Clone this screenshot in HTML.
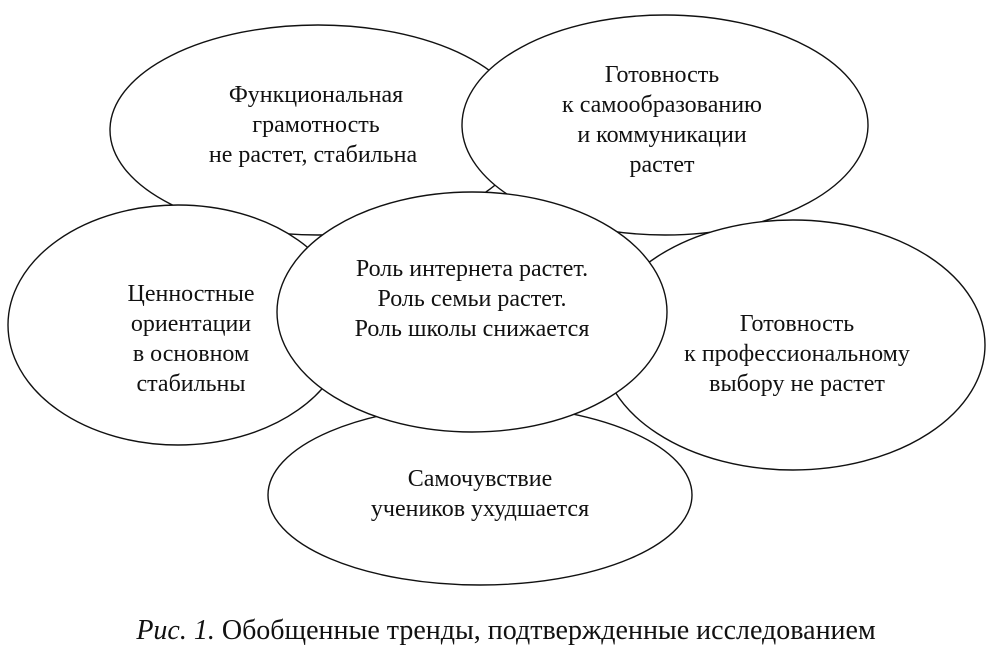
<!DOCTYPE html>
<html><head><meta charset="utf-8"><style>
body{margin:0;background:#fff;width:993px;height:653px;overflow:hidden}
svg text{font-family:"Liberation Serif",serif;font-size:24px;fill:#111;text-anchor:middle}
</style></head><body>
<svg width="993" height="653" viewBox="0 0 993 653">
<g fill="#fff" stroke="#111" stroke-width="1.4">
<ellipse cx="318" cy="130" rx="208" ry="105"/>
<ellipse cx="665" cy="125" rx="203" ry="110"/>
<ellipse cx="480" cy="495" rx="212" ry="90"/>
<ellipse cx="178" cy="325" rx="170" ry="120"/>
<ellipse cx="793" cy="345" rx="192" ry="125"/>
<ellipse cx="472" cy="312" rx="195" ry="120"/>
</g>
<text x="316" y="102">Функциональная</text>
<text x="316" y="132">грамотность</text>
<text x="313" y="162">не растет, стабильна</text>
<text x="662" y="82">Готовность</text>
<text x="662" y="112">к самообразованию</text>
<text x="662" y="142">и коммуникации</text>
<text x="662" y="172">растет</text>
<text x="472" y="276">Роль интернета растет.</text>
<text x="472" y="306">Роль семьи растет.</text>
<text x="472" y="336">Роль школы снижается</text>
<text x="191" y="301">Ценностные</text>
<text x="191" y="331">ориентации</text>
<text x="191" y="361">в основном</text>
<text x="191" y="391">стабильны</text>
<text x="797" y="331">Готовность</text>
<text x="797" y="361">к профессиональному</text>
<text x="797" y="391">выбору не растет</text>
<text x="480" y="486">Самочувствие</text>
<text x="480" y="516">учеников ухудшается</text>
<text x="506" y="639" style="font-size:28px"><tspan font-style="italic">Рис. 1.</tspan> Обобщенные тренды, подтвержденные исследованием</text>
</svg>
</body></html>
